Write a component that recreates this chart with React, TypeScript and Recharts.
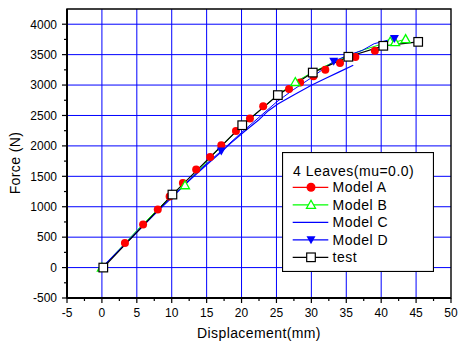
import { LineChart, Line, XAxis, YAxis, CartesianGrid, ReferenceArea } from 'recharts';

const FONT = '"Liberation Sans", Arial, sans-serif';

// axis ticks (major every 5 / 500, minor halfway)
const xTicks = [-5, -2.5, 0, 2.5, 5, 7.5, 10, 12.5, 15, 17.5, 20, 22.5, 25, 27.5, 30, 32.5, 35, 37.5, 40, 42.5, 45, 47.5, 50];
const yTicks = [-500, -250, 0, 250, 500, 750, 1000, 1250, 1500, 1750, 2000, 2250, 2500, 2750, 3000, 3250, 3500, 3750, 4000];
const gridX = [0, 5, 10, 15, 20, 25, 30, 35, 40, 45];
const gridY = [0, 500, 1000, 1500, 2000, 2500, 3000, 3500, 4000];

// test
const testX = [0.2, 10.1, 20.1, 25.2, 30.2, 35.3, 40.3, 45.3];
const testY = [0, 1200, 2340, 2835, 3205, 3465, 3645, 3710];

// Model A
const modelAX = [0.3, 3.3, 5.9, 8.0, 9.7, 11.6, 13.5, 15.5, 17.1, 19.2, 21.2, 23.1, 25.1, 26.8, 28.4, 30.3, 32.0, 34.1, 36.3, 39.1];
const modelAY = [0, 405, 707, 953, 1170, 1390, 1610, 1818, 2010, 2246, 2450, 2652, 2815, 2934, 3043, 3145, 3250, 3362, 3462, 3562];

// Model B
const modelBX = [0, 2.5, 5, 7.5, 10, 11.9, 15, 17.5, 20, 22.5, 25, 27.7, 30, 32.5, 35, 37.5, 40, 41.3, 42.0, 43.5];
const modelBY = [0, 300, 610, 900, 1190, 1353, 1740, 2040, 2320, 2570, 2820, 3050, 3200, 3340, 3470, 3580, 3670, 3715, 3705, 3755];
const modelBMarkX = [0, 11.9, 27.7, 41.3, 42.0, 43.5];
const modelBMarkY = [0, 1353, 3050, 3715, 3705, 3755];

// Model C
const modelCX = [0, 2.5, 5, 7.5, 10, 12.5, 15, 17, 18.5, 20.5, 22.4, 23.8, 25.2, 27.6, 30, 32, 34, 36];
const modelCY = [0, 290, 580, 870, 1150, 1430, 1690, 1890, 2050, 2245, 2420, 2575, 2690, 2844, 2997, 3107, 3216, 3326];

// Model D
const modelDX = [0, 2.5, 5, 7.5, 10, 12.5, 15, 17.1, 20, 22.5, 25, 27.5, 30, 33.2, 35, 37.3, 39, 41.9];
const modelDY = [0, 290, 590, 880, 1160, 1440, 1710, 1917, 2220, 2470, 2720, 2930, 3120, 3390, 3480, 3570, 3680, 3765];
const modelDMarkX = [17.1, 33.2, 41.9];
const modelDMarkY = [1917, 3390, 3765];

const zip = (xs: number[], ys: number[]) => xs.map((x, i) => ({ x, y: ys[i] }));

const testData = zip(testX, testY);
const modelAData = zip(modelAX, modelAY);
const modelBData = zip(modelBX, modelBY);
const modelBMarks = zip(modelBMarkX, modelBMarkY);
const modelCData = zip(modelCX, modelCY);
const modelDData = zip(modelDX, modelDY);
const modelDMarks = zip(modelDMarkX, modelDMarkY);

function XTick({ x, y, payload }: any) {
  const major = payload.value % 5 === 0;
  return (
    <g>
      <line x1={x} y1={y} x2={x} y2={y + (major ? 5 : 3)} stroke="#000" strokeWidth={1.2} />
      {major && (
        <text x={x} y={y + 19} textAnchor="middle" fontSize={12} fontFamily={FONT} fill="#000">
          {payload.value}
        </text>
      )}
    </g>
  );
}

function YTick({ x, y, payload }: any) {
  const major = payload.value % 500 === 0;
  return (
    <g>
      <line x1={x} y1={y} x2={x - (major ? 5 : 3)} y2={y} stroke="#000" strokeWidth={1.2} />
      {major && (
        <text x={x - 10} y={y + 4.3} textAnchor="end" fontSize={12} fontFamily={FONT} fill="#000">
          {payload.value}
        </text>
      )}
    </g>
  );
}

const circleDot = (p: any) => <circle key={p.index} cx={p.cx} cy={p.cy} r={4} fill="#ff0000" />;
const upTriangle = (p: any) => (
  <path
    key={p.index}
    d={`M${p.cx},${p.cy - 4.5}L${p.cx + 4.5},${p.cy + 3.5}L${p.cx - 4.5},${p.cy + 3.5}Z`}
    fill="#fff"
    stroke="#00ff00"
    strokeWidth={1.3}
  />
);
const downTriangle = (p: any) => (
  <path
    key={p.index}
    d={`M${p.cx - 4.5},${p.cy - 3.5}L${p.cx + 4.5},${p.cy - 3.5}L${p.cx},${p.cy + 4.5}Z`}
    fill="#0000ff"
  />
);
const squareDot = (p: any) => (
  <rect key={p.index} x={p.cx - 4.3} y={p.cy - 4.3} width={8.6} height={8.6} fill="#fff" stroke="#000" strokeWidth={1.2} />
);

const legendRows = [
  { name: 'Model A', color: '#ff0000', marker: 'circle' },
  { name: 'Model B', color: '#00ff00', marker: 'up' },
  { name: 'Model C', color: '#0000ff', marker: 'none' },
  { name: 'Model D', color: '#0000ff', marker: 'down' },
  { name: 'test', color: '#000000', marker: 'square' },
];

function Legend() {
  const mx = 29;
  return (
    <svg width={152} height={120} style={{ position: 'absolute', left: 282, top: 152 }}>
      <rect x={0.5} y={0.5} width={151} height={119} fill="#fff" stroke="#000" strokeWidth={1.2} />
      <text x={11} y={23.5} fontSize={14} fontFamily={FONT} letterSpacing={0.5} fill="#000">
        4 Leaves(mu=0.0)
      </text>
      {legendRows.map((r, i) => {
        const cy = 35.3 + i * 17.5;
        return (
          <g key={r.name}>
            <line x1={10.7} x2={46.3} y1={cy} y2={cy} stroke={r.color} strokeWidth={1.2} />
            {r.marker === 'circle' && <circle cx={mx} cy={cy} r={4.5} fill="#ff0000" />}
            {r.marker === 'up' &&
              upTriangle({ cx: mx, cy, index: 0 })}
            {r.marker === 'down' && downTriangle({ cx: mx, cy, index: 0 })}
            {r.marker === 'square' && squareDot({ cx: mx, cy, index: 0 })}
            <text x={50.5} y={cy + 5} fontSize={14} fontFamily={FONT} letterSpacing={0.5} fill="#000">
              {r.name}
            </text>
          </g>
        );
      })}
    </svg>
  );
}

export default function App() {
  return (
    <div style={{ position: 'absolute', left: 0, top: 0, width: 459, height: 344, background: '#fff' }}>
      <LineChart width={459} height={344} margin={{ top: 9, right: 8, bottom: 16, left: 20 }}>
        <CartesianGrid
          stroke="#0000ff"
          strokeWidth={1}
          horizontalValues={gridY}
          verticalValues={gridX}
        />
        <XAxis
          type="number"
          dataKey="x"
          domain={[-5, 50]}
          ticks={xTicks}
          interval={0}
          allowDataOverflow
          height={30}
          tickSize={0}
          tickMargin={0}
          tickLine={false}
          axisLine={{ stroke: '#000', strokeWidth: 2 }}
          tick={<XTick />}
        />
        <YAxis
          type="number"
          dataKey="y"
          domain={[-500, 4250]}
          ticks={yTicks}
          interval={0}
          allowDataOverflow
          width={47}
          tickSize={0}
          tickMargin={0}
          tickLine={false}
          axisLine={{ stroke: '#000', strokeWidth: 2 }}
          tick={<YTick />}
        />
        <ReferenceArea x1={-5} x2={50} y1={-500} y2={4250} fill="none" stroke="#000" strokeWidth={1.4} />
        <Line data={modelAData} dataKey="y" stroke="none" dot={circleDot} isAnimationActive={false} />
        <Line data={modelBData} dataKey="y" stroke="#00ff00" strokeWidth={1} dot={false} isAnimationActive={false} />
        <Line data={modelCData} dataKey="y" stroke="#0000ff" strokeWidth={1.2} dot={false} isAnimationActive={false} />
        <Line data={modelDData} dataKey="y" stroke="#0000ff" strokeWidth={1} dot={false} isAnimationActive={false} />
        <Line data={testData} dataKey="y" stroke="#000" strokeWidth={1.2} dot={false} isAnimationActive={false} />
        <Line data={modelBMarks} dataKey="y" stroke="none" dot={upTriangle} isAnimationActive={false} />
        <Line data={modelDMarks} dataKey="y" stroke="none" dot={downTriangle} isAnimationActive={false} />
        <Line data={testData} dataKey="y" stroke="none" dot={squareDot} isAnimationActive={false} />
      </LineChart>
      <Legend />
      <div
        style={{
          position: 'absolute',
          left: 259,
          top: 333,
          transform: 'translate(-50%, -50%)',
          fontFamily: FONT,
          fontSize: 14,
          letterSpacing: 0.4,
          whiteSpace: 'nowrap',
        }}
      >
        Displacement(mm)
      </div>
      <div
        style={{
          position: 'absolute',
          left: 15,
          top: 163,
          transform: 'translate(-50%, -50%) rotate(-90deg)',
          fontFamily: FONT,
          fontSize: 14,
          letterSpacing: 0.4,
          whiteSpace: 'nowrap',
        }}
      >
        Force (N)
      </div>
    </div>
  );
}
